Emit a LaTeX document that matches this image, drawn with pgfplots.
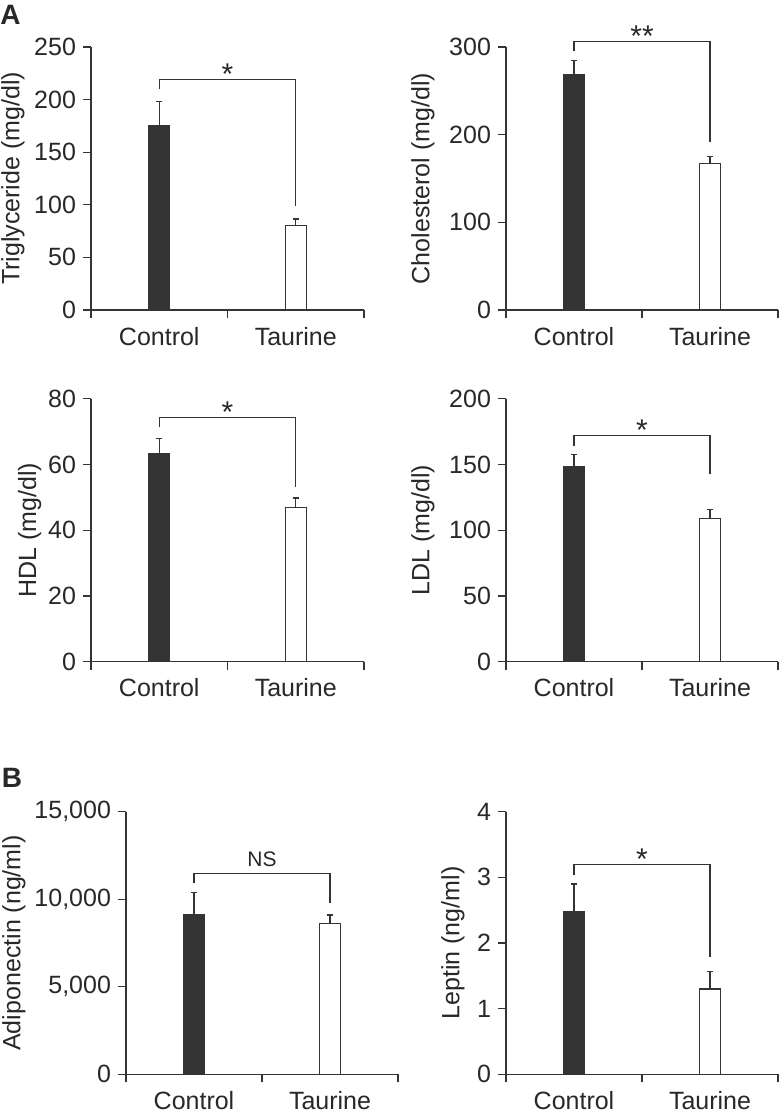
\documentclass[border=0pt]{standalone}
\usepackage{fontspec}
\setmainfont{Liberation Sans}
\usepackage{pgfplots}
\pgfplotsset{compat=1.18}
\definecolor{dk}{RGB}{52,52,52}
\definecolor{tx}{RGB}{40,40,40}
\newcommand\fs{\fontsize{12.5}{15}\selectfont}
\pgfplotsset{
  panel/.style={
    scale only axis, width=136pt, height=131.5pt,
    anchor=south west,
    axis x line=bottom, axis y line=left,
    axis line style={-, line width=0.65pt, draw=dk},
    xmin=-0.5, xmax=1.5,
    xtick={-0.5,0.5,1.5},
    xticklabels={Control,Taurine},
    x tick label as interval,
    ymin=0,
    tick align=outside,
    major tick length=4pt,
    minor tick num=0,
    tick style={line width=0.65pt, draw=dk},
    tick label style={font=\fs, text=tx},
    x tick label style={yshift=-1pt},
    label style={font=\fs, text=tx},
    /pgf/number format/assume math mode=true,
    scaled y ticks=false,
    clip=false,
    enlargelimits=false,
  },
  ylab/.style={ylabel style={at={([xshift=-#1]axis description cs:0,0.5)}, rotate=0, anchor=south, inner sep=0pt}},
  ctrl/.style={ybar, bar width=10.5pt, fill=dk, draw=dk, line width=0.6pt,
     error bars/.cd, y dir=plus, y explicit, error mark=|,
     error bar style={line width=0.6pt, draw=dk},
     error mark options={line width=0.6pt, draw=dk, mark size=1.6pt}},
  taur/.style={ybar, bar width=10.5pt, fill=white, draw=dk, line width=0.6pt,
     error bars/.cd, y dir=plus, y explicit, error mark=|,
     error bar style={line width=0.6pt, draw=dk},
     error mark options={line width=0.6pt, draw=dk, mark size=1.6pt}},
}
% bracket: left end, bracket level, right end, label
\newcommand\sig[4]{%
  \draw[dk, line width=0.6pt] (axis cs:0,#1) |- (axis cs:1,#2) -- (axis cs:1,#3);
  \node[anchor=base, text=tx, font=\fontsize{15}{18}\selectfont, inner sep=0pt, yshift=-2.5pt] at (axis cs:0.5,#2) {#4};}
\begin{document}
\begin{tikzpicture}
\useasboundingbox (0,0) rectangle (390pt,556.5pt);
\clip (0,0) rectangle (390pt,556.5pt);
\node[font=\bfseries\fontsize{14}{16}\selectfont, text=tx, inner sep=0pt] at (5.25pt,549pt) {A};
\node[font=\bfseries\fontsize{14}{16}\selectfont, text=tx, inner sep=0pt] at (6pt,167.75pt) {B};

% Triglyceride
\begin{axis}[panel, at={(45.5pt,401.5pt)}, width=136.5pt, ymax=250, ytick={0,50,100,150,200,250},
  ylabel={Triglyceride (mg/dl)}, ylab=33pt]
\addplot[ctrl] coordinates {(0,175) +- (0,23)};
\addplot[taur] coordinates {(1,80) +- (0,6.5)};
\sig{210}{219}{99}{*}
\end{axis}

% Cholesterol
\begin{axis}[panel, at={(253pt,401.5pt)}, ymax=300, ytick={0,100,200,300},
  ylabel={Cholesterol (mg/dl)}, ylab=35.5pt]
\addplot[ctrl] coordinates {(0,268) +- (0,17)};
\addplot[taur] coordinates {(1,167) +- (0,8)};
\sig{295}{306}{192}{**}
\end{axis}

% HDL
\begin{axis}[panel, at={(45.5pt,225.65pt)}, width=136.5pt, ymax=80, ytick={0,20,40,60,80},
  ylabel={HDL (mg/dl)}, ylab=24.7pt]
\addplot[ctrl] coordinates {(0,63.2) +- (0,4.7)};
\addplot[taur] coordinates {(1,46.8) +- (0,3)};
\sig{71.3}{74.3}{53}{*}
\end{axis}

% LDL
\begin{axis}[panel, at={(253pt,225.65pt)}, ymax=200, ytick={0,50,100,150,200},
  ylabel={LDL (mg/dl)}, ylab=35.5pt]
\addplot[ctrl] coordinates {(0,148) +- (0,9.5)};
\addplot[taur] coordinates {(1,109) +- (0,6.5)};
\sig{164}{172}{142.5}{*}
\end{axis}

% Adiponectin
\begin{axis}[panel, at={(63pt,19.35pt)}, height=131.3pt, ymax=15000, ytick={0,5000,10000,15000},
  ylabel={Adiponectin (ng/ml)}, ylab=50pt]
\addplot[ctrl] coordinates {(0,9140) +- (0,1230)};
\addplot[taur] coordinates {(1,8600) +- (0,500)};
\draw[dk, line width=0.6pt] (axis cs:0,10900) |- (axis cs:1,11480) -- (axis cs:1,9800);
\node[anchor=base, text=tx, font=\fontsize{10.5}{12}\selectfont, inner sep=0pt, yshift=3.3pt] at (axis cs:0.5,11480) {NS};
\end{axis}

% Leptin
\begin{axis}[panel, at={(253pt,19.35pt)}, height=131.3pt, ymax=4, ytick={0,1,2,3,4},
  ylabel={Leptin (ng/ml)}, ylab=20.5pt]
\addplot[ctrl] coordinates {(0,2.48) +- (0,0.42)};
\addplot[taur] coordinates {(1,1.3) +- (0,0.27)};
\sig{3.04}{3.19}{1.79}{*}
\end{axis}
\end{tikzpicture}
\end{document}
